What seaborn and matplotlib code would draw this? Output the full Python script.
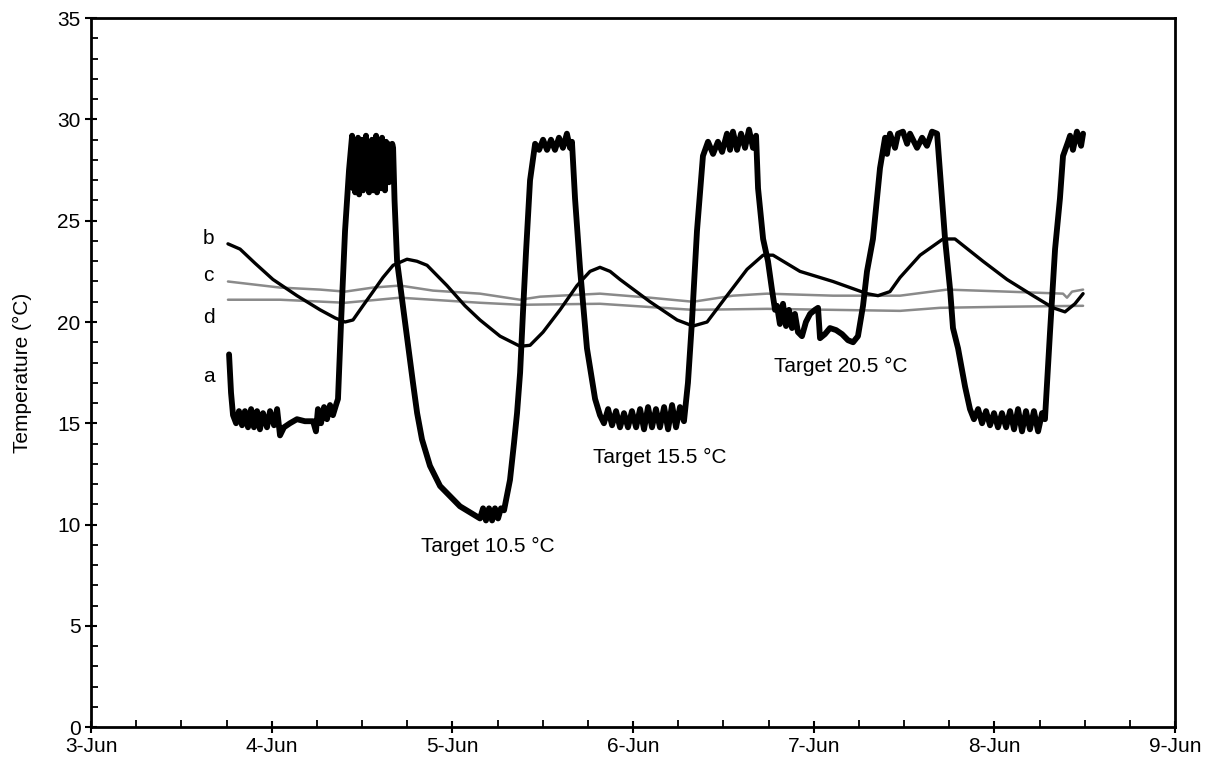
import matplotlib
matplotlib.use("Agg")
import matplotlib.pyplot as plt
import seaborn as sns
import pandas as pd
from matplotlib.ticker import MultipleLocator, FixedLocator

# ---- data (x = day of June, y = temperature in degC) ----
a_day = [3.764, 3.775, 3.786, 3.803, 3.819, 3.836, 3.852, 3.869, 3.886, 3.902,
         3.919, 3.935, 3.952, 3.974, 3.991, 4.013, 4.030, 4.046, 4.068, 4.101,
         4.140, 4.184, 4.229, 4.245, 4.256, 4.273, 4.290, 4.306, 4.323, 4.339,
         4.356, 4.367, 4.384, 4.406, 4.428, 4.445,
         4.451, 4.456, 4.462, 4.467, 4.473, 4.478, 4.484, 4.489, 4.495, 4.500,
         4.506, 4.511, 4.517, 4.522, 4.528, 4.533, 4.539, 4.544, 4.550, 4.555,
         4.561, 4.567, 4.572, 4.578, 4.583, 4.589, 4.594, 4.600, 4.605, 4.611,
         4.616, 4.622, 4.627, 4.633, 4.638, 4.644, 4.649, 4.655, 4.661, 4.667,
         4.672,
         4.680, 4.694, 4.716, 4.738, 4.760, 4.782, 4.805, 4.832, 4.876, 4.932,
         4.987, 5.042, 5.098, 5.153, 5.170, 5.186, 5.203, 5.220, 5.236, 5.253,
         5.269, 5.286,
         5.319, 5.341, 5.358, 5.375, 5.391, 5.408, 5.430, 5.458,
         5.480, 5.502, 5.524, 5.546, 5.568, 5.590, 5.612, 5.634, 5.651, 5.662,
         5.679, 5.707, 5.745, 5.790, 5.817,
         5.839, 5.862, 5.884, 5.906, 5.928, 5.950, 5.972, 5.994, 6.017, 6.039,
         6.061, 6.083, 6.105, 6.127, 6.149, 6.172, 6.194, 6.216, 6.238, 6.260,
         6.282, 6.304, 6.326, 6.354, 6.387, 6.415,
         6.443, 6.470, 6.493, 6.520, 6.537, 6.553, 6.576, 6.598, 6.620, 6.642,
         6.664, 6.681, 6.692, 6.720, 6.747, 6.769, 6.786,
         6.797, 6.813, 6.830, 6.847, 6.863, 6.880, 6.896, 6.913, 6.935, 6.957,
         6.980, 7.007, 7.024, 7.035, 7.062, 7.090, 7.124, 7.157, 7.190, 7.218,
         7.245, 7.273, 7.295, 7.328, 7.367, 7.395,
         7.406, 7.422, 7.450, 7.467, 7.494, 7.517, 7.533, 7.555, 7.572, 7.600,
         7.627, 7.655, 7.683, 7.699, 7.727, 7.755, 7.771, 7.799, 7.838, 7.865,
         7.887, 7.910, 7.932, 7.954, 7.976, 7.998, 8.020, 8.042, 8.065, 8.087,
         8.109, 8.131, 8.153, 8.175, 8.197, 8.219, 8.242, 8.264, 8.280,
         8.308, 8.336, 8.363, 8.380, 8.408, 8.419, 8.435, 8.457, 8.480, 8.491]
a_temp = [18.4, 16.5, 15.4, 15.0, 15.6, 14.9, 15.6, 14.8, 15.7, 14.8,
          15.6, 14.7, 15.5, 14.8, 15.6, 14.9, 15.7, 14.4, 14.8, 15.0,
          15.2, 15.1, 15.1, 14.6, 15.7, 15.0, 15.8, 15.2, 15.9, 15.4,
          15.9, 16.2, 20.0, 24.5, 27.5, 29.2,
          26.6, 29.0, 26.4, 28.9, 26.8, 29.1, 26.3, 28.7, 26.9, 29.0,
          26.5, 28.8, 27.0, 29.2, 26.6, 28.9, 26.4, 28.7, 27.1, 29.0,
          26.5, 28.8, 26.9, 29.2, 26.4, 28.9, 27.0, 28.8, 26.6, 29.1,
          26.8, 28.8, 26.5, 28.9, 27.2, 28.8, 26.9, 28.7, 27.3, 28.8,
          28.6,
          26.0, 23.0, 21.5, 20.0, 18.5, 17.0, 15.5, 14.2, 12.9, 11.9,
          11.4, 10.9, 10.6, 10.3, 10.8, 10.2, 10.8, 10.2, 10.8, 10.3,
          10.8, 10.7,
          12.2, 14.0, 15.5, 17.5, 20.5, 23.5, 27.0, 28.8,
          28.5, 29.0, 28.5, 29.0, 28.5, 29.1, 28.6, 29.3, 28.6, 28.9,
          26.1, 22.6, 18.7, 16.2, 15.4,
          15.0, 15.7, 14.9, 15.6, 14.8, 15.5, 14.8, 15.6, 14.8, 15.7,
          14.7, 15.8, 14.8, 15.7, 14.8, 15.8, 14.7, 15.9, 14.8, 15.8,
          15.1, 17.0, 20.0, 24.5, 28.2, 28.9,
          28.3, 28.9, 28.4, 29.3, 28.5, 29.4, 28.5, 29.3, 28.6, 29.5,
          28.6, 29.2, 26.6, 24.1, 23.0, 21.6, 20.6,
          20.8, 19.9, 20.9, 19.8, 20.6, 19.7, 20.4, 19.5, 19.3, 20.0,
          20.4, 20.6, 20.7, 19.2, 19.4, 19.7, 19.6, 19.4, 19.1, 19.0,
          19.3, 20.8, 22.5, 24.1, 27.6, 29.1,
          28.3, 29.3, 28.6, 29.3, 29.4, 28.8, 29.3, 28.9, 28.6, 29.1,
          28.7, 29.4, 29.3, 27.4, 24.1, 21.6, 19.7, 18.7, 16.8, 15.7,
          15.2, 15.7, 15.0, 15.6, 14.9, 15.5, 14.8, 15.5, 14.8, 15.6,
          14.7, 15.7, 14.6, 15.6, 14.7, 15.6, 14.6, 15.5, 15.2,
          19.5, 23.6, 26.1, 28.2, 28.9, 29.2, 28.5, 29.4, 28.7, 29.3]

b_day = [3.758, 3.825, 3.908, 4.007, 4.140, 4.268, 4.351, 4.406, 4.450, 4.505,
         4.561, 4.616, 4.672, 4.749, 4.804, 4.860, 4.970, 5.070, 5.153, 5.264,
         5.375, 5.430, 5.502, 5.596, 5.690, 5.762, 5.817, 5.873, 5.928, 6.094,
         6.244, 6.332, 6.410, 6.520, 6.631, 6.720, 6.775, 6.924, 7.107, 7.295,
         7.356, 7.422, 7.478, 7.589, 7.716, 7.782, 7.937, 8.070, 8.214, 8.325,
         8.391, 8.446, 8.491]
b_temp = [23.86, 23.6, 22.9, 22.1, 21.3, 20.6, 20.2, 20.0, 20.1, 20.8,
          21.5, 22.2, 22.8, 23.1, 23.0, 22.8, 21.8, 20.8, 20.1, 19.3,
          18.8, 18.85, 19.5, 20.6, 21.8, 22.5, 22.7, 22.5, 22.1, 21.0,
          20.1, 19.8, 20.0, 21.3, 22.6, 23.3, 23.3, 22.5, 22.0, 21.4,
          21.3, 21.5, 22.2, 23.3, 24.1, 24.1, 23.0, 22.1, 21.3, 20.7,
          20.5, 20.9, 21.4]

c_day = [3.758, 4.046, 4.268, 4.406, 4.561, 4.710, 4.893, 5.153, 5.375, 5.485,
         5.817, 6.094, 6.332, 6.553, 6.742, 7.107, 7.478, 7.738, 8.070, 8.380,
         8.402, 8.430, 8.491]
c_temp = [22.0, 21.7, 21.6, 21.5, 21.7, 21.8, 21.55, 21.4, 21.1, 21.25,
          21.4, 21.2, 21.0, 21.3, 21.4, 21.3, 21.3, 21.6, 21.5, 21.4,
          21.2, 21.5, 21.6]

d_day = [3.758, 4.046, 4.406, 4.710, 5.153, 5.375, 5.817, 6.332, 6.742, 7.478,
         7.699, 8.031, 8.491]
d_temp = [21.1, 21.1, 20.95, 21.2, 20.95, 20.85, 20.9, 20.6, 20.65, 20.55,
          20.7, 20.75, 20.8]

x_tick_days = [3, 4, 5, 6, 7, 8, 9]
x_tick_labels = ["3-Jun", "4-Jun", "5-Jun", "6-Jun", "7-Jun", "8-Jun", "9-Jun"]

series_names = ["a", "b", "c", "d"]
annotations = ["Target 10.5 °C", "Target 15.5 °C", "Target 20.5 °C"]

# ---- plotting ----
sns.set_theme(style="white")
plt.rcParams["font.family"] = ["Liberation Sans", "DejaVu Sans"]

fig = plt.figure(figsize=(12.12, 7.6), dpi=100)
ax = fig.add_axes([0.0751, 0.0434, 0.8944, 0.9326])

df_a = pd.DataFrame({"day": a_day, "temp": a_temp})
df_b = pd.DataFrame({"day": b_day, "temp": b_temp})
df_c = pd.DataFrame({"day": c_day, "temp": c_temp})
df_d = pd.DataFrame({"day": d_day, "temp": d_temp})

sns.lineplot(data=df_c, x="day", y="temp", ax=ax, color="#8a8a8a", lw=1.8,
             estimator=None, sort=False)
sns.lineplot(data=df_d, x="day", y="temp", ax=ax, color="#8a8a8a", lw=1.8,
             estimator=None, sort=False)
sns.lineplot(data=df_b, x="day", y="temp", ax=ax, color="black", lw=2.4,
             estimator=None, sort=False)
sns.lineplot(data=df_a, x="day", y="temp", ax=ax, color="black", lw=4.2,
             estimator=None, sort=False, solid_joinstyle="round")

ax.set_xlim(3, 9)
ax.set_ylim(0, 35)
ax.xaxis.set_major_locator(FixedLocator(x_tick_days))
ax.set_xticklabels(x_tick_labels)
ax.xaxis.set_minor_locator(MultipleLocator(0.25))
ax.yaxis.set_major_locator(MultipleLocator(5))
ax.yaxis.set_minor_locator(MultipleLocator(1))

ax.tick_params(which="major", direction="inout", length=9, width=1.5,
               labelsize=15, color="black", labelcolor="black",
               bottom=True, left=True, top=False, right=False, pad=3)
ax.tick_params(which="minor", direction="in", length=5, width=1.3,
               color="black", bottom=True, left=True, top=False, right=False)

for sp in ax.spines.values():
    sp.set_visible(True)
    sp.set_color("black")
    sp.set_linewidth(2.0)

ax.set_xlabel("")
ax.set_ylabel("Temperature (°C)", fontsize=15, color="black", labelpad=18)

# series letter labels
label_pos = {"b": (3.65, 24.1), "c": (3.65, 22.3), "d": (3.65, 20.2), "a": (3.65, 17.3)}
for name in series_names:
    xx, yy = label_pos[name]
    ax.text(xx, yy, name, fontsize=15, ha="center", va="center", color="black")

ann_pos = [(5.197, 8.9), (6.149, 13.3), (7.151, 17.8)]
for txt, (xx, yy) in zip(annotations, ann_pos):
    ax.text(xx, yy, txt, fontsize=15, ha="center", va="center", color="black")

fig.savefig("out.png", dpi=100, facecolor="white")
